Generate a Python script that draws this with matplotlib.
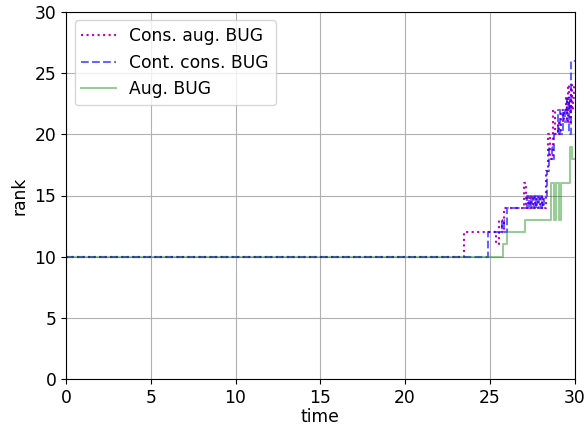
import matplotlib
matplotlib.use("Agg")
import matplotlib.pyplot as plt

# Cons. aug. BUG
t_cab = [0, 23.5, 25.35, 25.55, 25.7, 25.85, 27.0, 27.15, 27.25, 27.35, 27.45, 27.55, 27.65, 27.75,
         27.85, 27.95, 28.05, 28.15, 28.3, 28.4, 28.55, 28.7, 28.85, 29.0, 29.1, 29.2, 29.3, 29.4,
         29.5, 29.55, 29.6, 29.65, 29.7, 29.75, 29.8, 29.85, 29.9, 29.95, 30.0]
r_cab = [10, 12, 11, 13, 12, 14, 16, 14, 15, 14, 15, 14, 15, 14,
         15, 14, 15, 14, 17, 20, 18, 22, 20, 21, 20, 22, 21, 22,
         23, 21, 24, 22, 23, 21, 24, 22, 23, 24, 24]

# Cont. cons. BUG
t_ccb = [0, 24.9, 25.7, 25.85, 26.0, 27.2, 27.3, 27.4, 27.5, 27.6, 27.7, 27.8, 27.9, 28.0, 28.1, 28.2,
         28.35, 28.5, 28.65, 28.8, 29.0, 29.15, 29.3, 29.45, 29.55, 29.65, 29.8, 30.0]
r_ccb = [10, 12, 13, 12, 14, 15, 14, 15, 14, 15, 14, 15, 14, 15, 14, 15,
         17, 19, 18, 20, 22, 20, 22, 21, 23, 20, 26, 26]

# Aug. BUG
t_ab = [0, 25.8, 26.0, 27.1, 28.6, 28.8, 28.9, 29.1, 29.2, 29.7, 29.85, 30.0]
r_ab = [10, 11, 12, 13, 16, 13, 16, 13, 16, 19, 18, 18]

plt.rcParams['font.size'] = 12.3
fig = plt.figure(figsize=(5.86, 4.25), dpi=100)
ax = fig.add_axes([0.1126, 0.108, 0.868, 0.864])

ax.step(t_cab, r_cab, where='post', color='m', linestyle=':', linewidth=1.5, label='Cons. aug. BUG')
ax.step(t_ccb, r_ccb, where='post', color='b', alpha=0.6, linestyle='--', linewidth=1.5, label='Cont. cons. BUG')
ax.step(t_ab, r_ab, where='post', color='g', alpha=0.4, linestyle='-', linewidth=1.5, label='Aug. BUG')

ax.set_xlim(0, 30)
ax.set_ylim(0, 30)
ax.set_xlabel('time', labelpad=1)
ax.set_ylabel('rank')
ax.grid(True)
ax.legend(loc='upper left')

fig.savefig('out.png', dpi=100)
